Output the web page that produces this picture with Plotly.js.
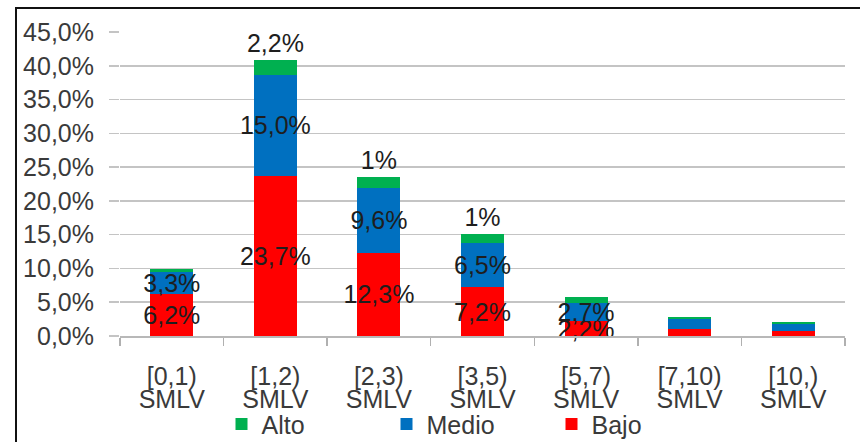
<!DOCTYPE html>
<html>
<head>
<meta charset="utf-8">
<script src="https://cdn.plot.ly/plotly-3.0.1.min.js"></script>
<style>
html,body{margin:0;padding:0;background:#fff;}
#wrap{position:relative;width:860px;height:442px;overflow:hidden;}
#chart{position:absolute;left:0;top:0;width:860px;height:442px;}
#frame{position:absolute;left:15px;top:7px;width:900px;height:500px;border-left:2px solid #111;border-top:2px solid #111;pointer-events:none;}
</style>
</head>
<body>
<div id="wrap"><div id="chart"></div><div id="frame"></div></div>
<script>
// Data
var rangeLabels = ['[0,1)', '[1,2)', '[2,3)', '[3,5)', '[5,7)', '[7,10)', '[10,)'];
var unitLabels = ['SMLV', 'SMLV', 'SMLV', 'SMLV', 'SMLV', 'SMLV', 'SMLV'];
var bajo  = [6.2, 23.7, 12.3, 7.2, 2.2, 1.1, 0.7];
var medio = [3.3, 15.0, 9.6, 6.5, 2.7, 1.4, 1.1];
var alto  = [0.4, 2.2, 1.6, 1.4, 0.9, 0.3, 0.3];
var bajoText  = ['6,2%', '23,7%', '12,3%', '7,2%', '2,2%', '', ''];
var medioText = ['3,3%', '15,0%', '9,6%', '6,5%', '2,7%', '', ''];
var altoText  = ['', '2,2%', '1%', '1%', '', '', ''];

var FONT = 'Liberation Sans, Arial, sans-serif';
var labelFont = {family: FONT, size: 25, color: '#1e1e1e'};

function barTrace(name, vals, txt, color, pos) {
  return {
    type: 'bar', name: name, x: rangeLabels, y: vals,
    text: txt, textposition: pos, insidetextanchor: 'middle', textangle: 0,
    constraintext: 'none', textfont: labelFont,
    insidetextfont: labelFont, outsidetextfont: labelFont,
    marker: {color: color, line: {width: 0}},
    hoverinfo: 'skip', cliponaxis: false
  };
}

var traces = [
  barTrace('Bajo', bajo, bajoText, '#ff0000', 'inside'),
  barTrace('Medio', medio, medioText, '#0070c0', 'inside'),
  barTrace('Alto', alto, altoText, '#00b050', 'outside'),
  {type: 'scatter', mode: 'none', x: rangeLabels.map(function(_, i){return i;}),
   y: rangeLabels.map(function(){return 0;}), xaxis: 'x2', yaxis: 'y',
   showlegend: false, hoverinfo: 'skip'}
];

var layout = {
  width: 860, height: 442,
  margin: {l: 120, r: 15, t: 32, b: 106, autoexpand: false},
  paper_bgcolor: '#ffffff', plot_bgcolor: '#ffffff',
  separators: ', ',
  barmode: 'stack', bargap: 0.585,
  font: {family: FONT, size: 25, color: '#3a3a3a'},
  showlegend: true,
  legend: {orientation: 'h', traceorder: 'reversed', x: 0.14, xanchor: 'left',
           yref: 'container', y: 0.04, yanchor: 'middle', entrywidth: 120,
           font: {family: FONT, size: 25, color: '#3a3a3a'},
           bgcolor: 'rgba(0,0,0,0)'},
  xaxis: {type: 'category', tickson: 'boundaries', ticks: 'outside', ticklen: 8,
          tickcolor: '#b0b0b0', tickwidth: 1.5, showline: true, linecolor: '#b8b8b8',
          linewidth: 1.5, showgrid: false, zeroline: false, ticklabelstandoff: 17,
          automargin: false,
          tickfont: {family: FONT, size: 25, color: '#3a3a3a'}, fixedrange: true},
  xaxis2: {overlaying: 'x', anchor: 'y', side: 'bottom', type: 'linear',
           range: [-0.5, 6.5], tickmode: 'array',
           tickvals: rangeLabels.map(function(_, i){return i;}), ticktext: unitLabels,
           showline: false, showgrid: false, zeroline: false, ticks: '',
           ticklabelstandoff: 46, automargin: false,
           tickfont: {family: FONT, size: 25, color: '#3a3a3a'}, fixedrange: true},
  yaxis: {range: [0, 45], dtick: 5, tick0: 0, tickformat: '.1f', ticksuffix: '%',
          showgrid: true, gridcolor: '#c4c4c4', gridwidth: 1.5, zeroline: false,
          showline: false, ticks: 'outside', ticklen: 10, tickcolor: '#c4c4c4',
          tickwidth: 1.5, ticklabelstandoff: 10, automargin: false,
          tickfont: {family: FONT, size: 25, color: '#3a3a3a'}, fixedrange: true}
};

Plotly.newPlot('chart', traces, layout, {displayModeBar: false, staticPlot: true});
</script>
</body>
</html>
